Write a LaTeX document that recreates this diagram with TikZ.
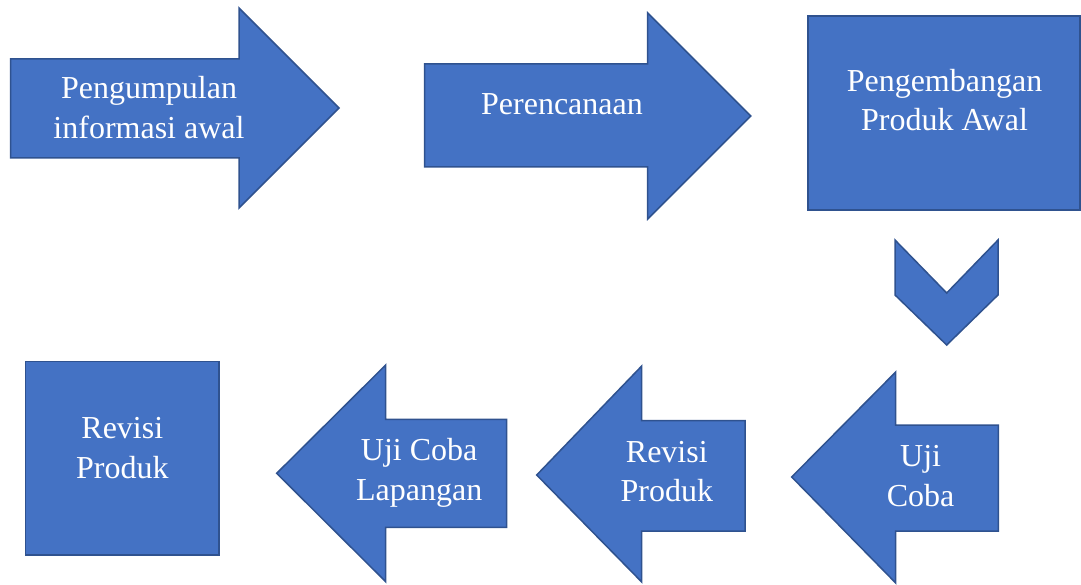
\documentclass[tikz,border=0pt]{standalone}
\usepackage{fontspec}
\setmainfont{Liberation Serif}
\definecolor{shapefill}{HTML}{4472C4}
\definecolor{shapeedge}{HTML}{2F528F}
\begin{document}
\begin{tikzpicture}[x=1pt,y=-1pt,
  shapebox/.style={fill=shapefill,draw=shapeedge,line width=1.5pt,line join=miter},
  lbl/.style={text=white,font=\fontsize{32}{39.5}\selectfont,align=center,inner sep=0pt,anchor=base}]
\useasboundingbox (0,0) rectangle (1081,585);
% top row
\draw[shapebox] (10.7,59) -- (239,59) -- (239,8) -- (339,108) -- (239,208) -- (239,158) -- (10.7,158) -- cycle;
\draw[shapebox] (424.7,64) -- (647.7,64) -- (647.7,13) -- (750.7,116) -- (647.7,219) -- (647.7,167) -- (424.7,167) -- cycle;
\draw[shapebox] (808,16) rectangle (1080,210);
% chevron down
\draw[shapebox] (895,240) -- (946.7,293) -- (998,240) -- (998,295) -- (946.7,345) -- (895,295) -- cycle;
% bottom row
\draw[shapebox] (791.7,477) -- (895.7,372) -- (895.7,425) -- (998.3,425) -- (998.3,531) -- (895.7,531) -- (895.7,583) -- cycle;
\draw[shapebox] (536.7,475) -- (641.7,366) -- (641.7,420.7) -- (745,420.7) -- (745,531) -- (641.7,531) -- (641.7,582) -- cycle;
\draw[shapebox] (276.7,473.3) -- (385.7,365) -- (385.7,419.3) -- (506.7,419.3) -- (506.7,527.3) -- (385.7,527.3) -- (385.7,581.7) -- cycle;
\draw[shapebox] (25.7,361.7) rectangle (219,555);
% labels (base anchor = baseline of the last line)
\node[lbl] (t1) at (149,138.3) {Pengumpulan\\informasi awal};
\node[lbl] (t2) at (562,115) {Perencanaan};
\node[lbl] (t3) at (944.5,131) {Pengembangan\\Produk Awal};
\node[lbl] (t4) at (920.6,506) {Uji\\Coba};
\node[lbl] (t5) at (666.8,501.7) {Revisi\\Produk};
\node[lbl] (t6) at (419.2,500) {Uji Coba\\Lapangan};
\node[lbl] (t7) at (122.3,478.3) {Revisi\\Produk};
\end{tikzpicture}
\end{document}
